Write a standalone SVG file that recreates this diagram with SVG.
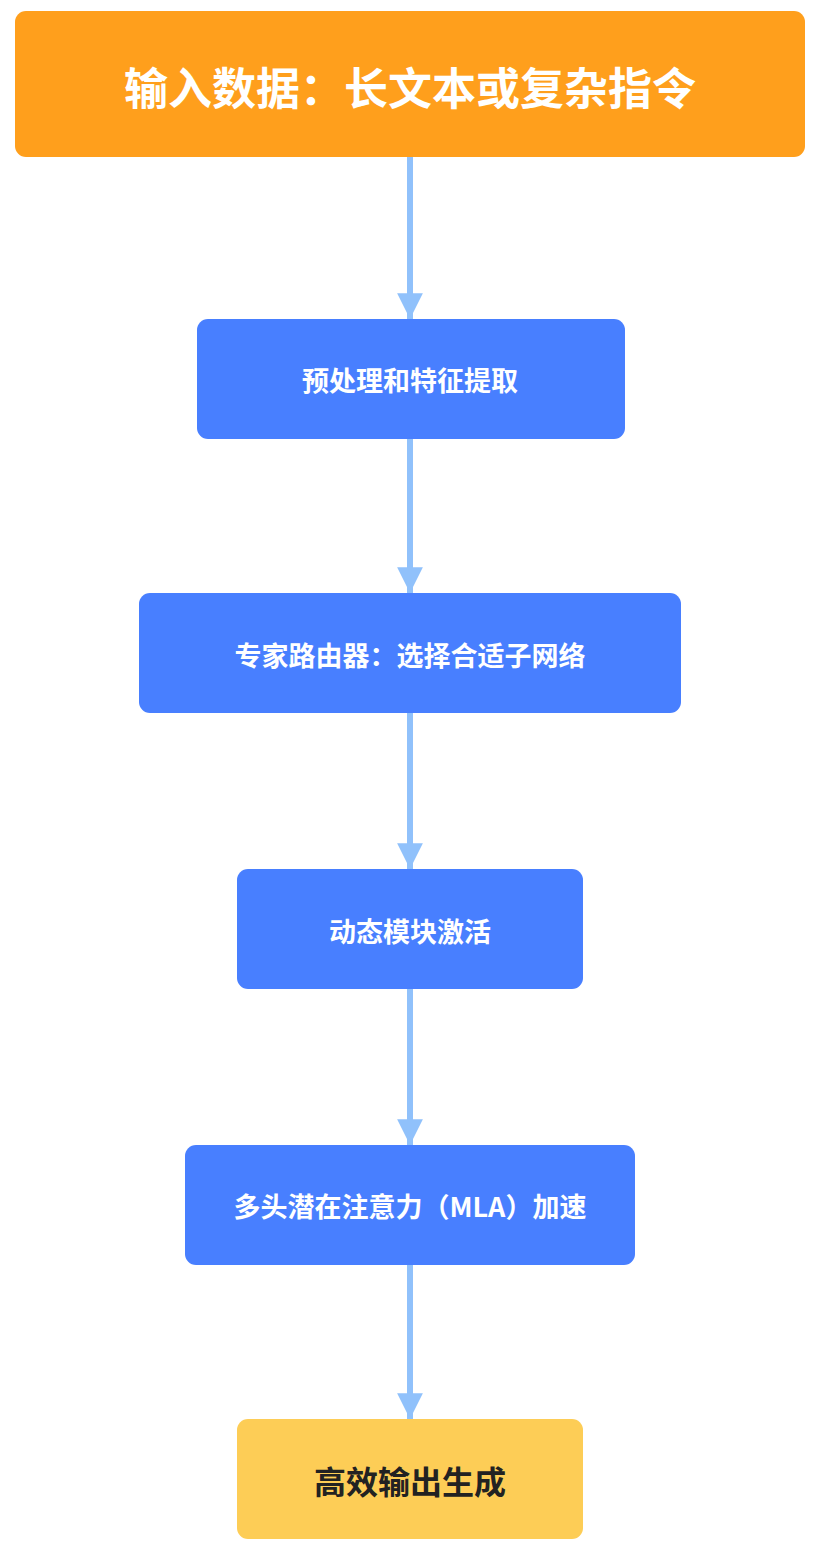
<svg xmlns="http://www.w3.org/2000/svg" width="822" height="1554" viewBox="0 0 822 1554">
<style>
.t{font-family:"Noto Sans CJK SC","Noto Sans",sans-serif;font-weight:bold;text-anchor:middle;dominant-baseline:central}
.w{fill:#fff}
.b{fill:#487FFF}
.c{stroke:#90C1FB;stroke-width:6;fill:none}
</style>
<defs>
<marker id="a" viewBox="0 0 10 10" refX="10" refY="5" markerWidth="4.3" markerHeight="4.3" orient="auto" markerUnits="strokeWidth">
<path d="M0,0 L10,5 L0,10 z" fill="#90C1FB"/>
</marker>
</defs>
<rect width="822" height="1554" fill="#fff"/>
<g id="connectors">
<line class="c" x1="410" y1="157" x2="410" y2="319" marker-end="url(#a)"/>
<line class="c" x1="410" y1="439" x2="410" y2="593" marker-end="url(#a)"/>
<line class="c" x1="410" y1="713" x2="410" y2="869" marker-end="url(#a)"/>
<line class="c" x1="410" y1="989" x2="410" y2="1145" marker-end="url(#a)"/>
<line class="c" x1="410" y1="1265" x2="410" y2="1419" marker-end="url(#a)"/>
</g>
<g id="n1"><rect x="15" y="11" width="790" height="146" rx="11" fill="#FF9F1C"/><text class="t w" x="410" y="86" font-size="44">输入数据：长文本或复杂指令</text></g>
<g id="n2"><rect class="b" x="197" y="319" width="428" height="120" rx="11"/><text class="t w" x="410" y="379" font-size="27">预处理和特征提取</text></g>
<g id="n3"><rect class="b" x="139" y="593" width="542" height="120" rx="11"/><text class="t w" x="410" y="654" font-size="27">专家路由器：选择合适子网络</text></g>
<g id="n4"><rect class="b" x="237" y="869" width="346" height="120" rx="11"/><text class="t w" x="410" y="930" font-size="27">动态模块激活</text></g>
<g id="n5"><rect class="b" x="185" y="1145" width="450" height="120" rx="11"/><text class="t w" x="410" y="1205" font-size="27">多头潜在注意力（MLA）加速</text></g>
<g id="n6"><rect x="237" y="1419" width="346" height="120" rx="11" fill="#FDCD56"/><text class="t" x="410" y="1480" font-size="32" fill="#222">高效输出生成</text></g>
</svg>
